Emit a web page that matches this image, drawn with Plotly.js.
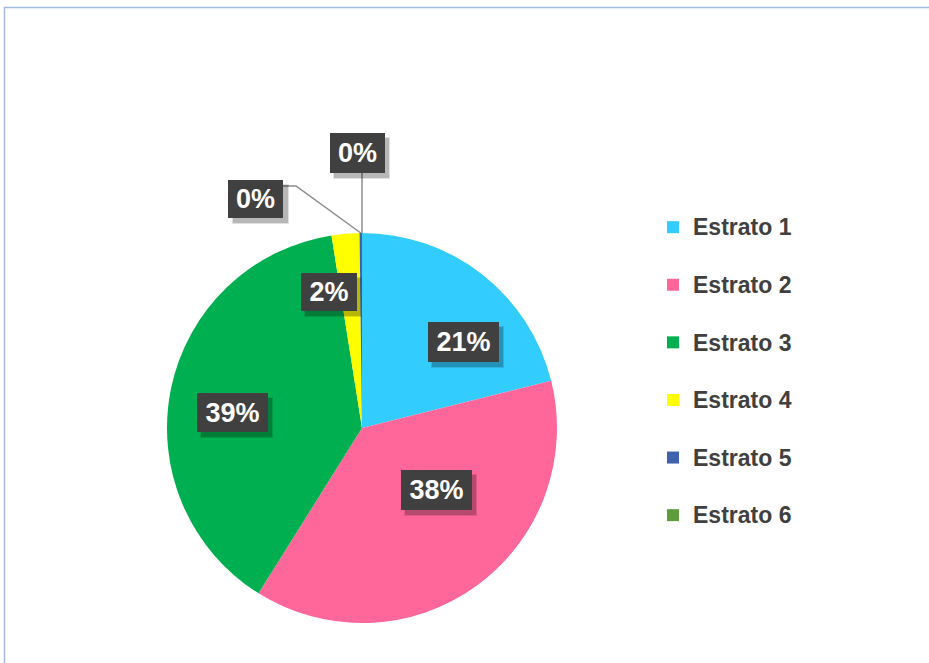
<!DOCTYPE html>
<html>
<head>
<meta charset="utf-8">
<script src="https://cdn.plot.ly/plotly-3.0.1.min.js"></script>
<style>html,body{margin:0;padding:0;background:#fff;}#chart{width:929px;height:663px;}</style>
</head>
<body>
<div id="chart"></div>
<script>
// ---- data ----
var categories = ['Estrato 1', 'Estrato 2', 'Estrato 3', 'Estrato 4', 'Estrato 5', 'Estrato 6'];
var shares = [21.1, 37.8, 38.6, 2.3, 0.2, 0.0];
var sliceColors = ['#33CCFF', '#FF6699', '#00B050', '#FFFF00', '#3E63AC', '#5E9C3E'];

// ---- geometry / placement (pixels) ----
var W = 929, H = 663;
var CX = 362, CY = 428, R = 195;
// label box centres and sizes (label text, not marks)
var labelBox = [
  {x: 463, y: 342, w: 71, h: 40},
  {x: 436, y: 490, w: 71, h: 40},
  {x: 232, y: 412, w: 71, h: 39},
  {x: 329, y: 292, w: 56, h: 38},
  {x: 256, y: 199, w: 55, h: 38, leader: [[283, 186], [296, 186]]},
  {x: 357, y: 153, w: 55, h: 40, leader: [[362, 173]]}
];

function px(x) { return x / W; }
function py(y) { return 1 - y / H; }

var total = shares.reduce(function (a, b) { return a + b; }, 0);
var cum = 0;
var midAngles = shares.map(function (v) {
  var a = (cum + v / 2) / total * 360;
  cum += v;
  return a;
});

var annotations = [];
var shapes = [];
// frame
shapes.push({type: 'rect', xref: 'paper', yref: 'paper', x0: px(4.5), x1: 1.05, y0: -0.05, y1: py(7.5),
  line: {color: '#A3BBE6', width: 1.5}, fillcolor: 'rgba(0,0,0,0)', layer: 'below'});

categories.forEach(function (c, i) {
  var b = labelBox[i];
  var pct = Math.round(shares[i] / total * 100) + '%';
  // leader line to slice edge
  if (b.leader) {
    var a = midAngles[i] * Math.PI / 180;
    var ex = CX + R * Math.sin(a), ey = CY - R * Math.cos(a);
    var pts = b.leader.concat([[ex, ey]]);
    var path = pts.map(function (p, k) { return (k ? 'L' : 'M') + px(p[0]) + ',' + py(p[1]); }).join(' ');
    shapes.push({type: 'path', xref: 'paper', yref: 'paper', path: path, line: {color: '#8C8C8C', width: 1.5}});
  }
  // shadow
  annotations.push({xref: 'paper', yref: 'paper', x: px(b.x), y: py(b.y), xanchor: 'center', yanchor: 'middle',
    text: '&nbsp;', showarrow: false, width: b.w + 2, height: b.h + 2, borderpad: 0, borderwidth: 0,
    bgcolor: 'rgba(0,0,0,0.12)', xshift: 4, yshift: -5, font: {size: 10}});
  annotations.push({xref: 'paper', yref: 'paper', x: px(b.x), y: py(b.y), xanchor: 'center', yanchor: 'middle',
    text: '&nbsp;', showarrow: false, width: b.w, height: b.h, borderpad: 0, borderwidth: 0,
    bgcolor: 'rgba(0,0,0,0.18)', xshift: 4, yshift: -5, font: {size: 10}});
  annotations.push({xref: 'paper', yref: 'paper', x: px(b.x), y: py(b.y), xanchor: 'center', yanchor: 'middle',
    text: pct, showarrow: false, width: b.w, height: b.h, borderpad: 0, borderwidth: 0,
    bgcolor: '#404040', font: {family: 'Liberation Sans, Arial, sans-serif', size: 27, color: '#FFFFFF', weight: 700}});
});

var trace = {
  type: 'pie',
  labels: categories.map(function (c) { return '<span style="font-size:23px">' + c + '</span><br>&nbsp;'; }),
  values: shares,
  sort: false,
  direction: 'clockwise',
  rotation: 0,
  marker: {colors: sliceColors, line: {width: 0}},
  textinfo: 'none',
  hoverinfo: 'skip',
  domain: {x: [px(CX - R), px(CX + R)], y: [py(CY + R), py(CY - R)]}
};

var layout = {
  width: W, height: H,
  margin: {l: 0, r: 0, t: 0, b: 0},
  paper_bgcolor: '#FFFFFF',
  showlegend: true,
  legend: {
    x: px(660), y: py(207), xanchor: 'left', yanchor: 'top',
    valign: 'top',
    indentation: -7,
    font: {family: 'Liberation Sans, Arial, sans-serif', size: 21, color: '#404040', weight: 700},
    bgcolor: 'rgba(0,0,0,0)', borderwidth: 0
  },
  annotations: annotations,
  shapes: shapes
};

Plotly.newPlot('chart', [trace], layout, {staticPlot: true, displayModeBar: false});
</script>
</body>
</html>
